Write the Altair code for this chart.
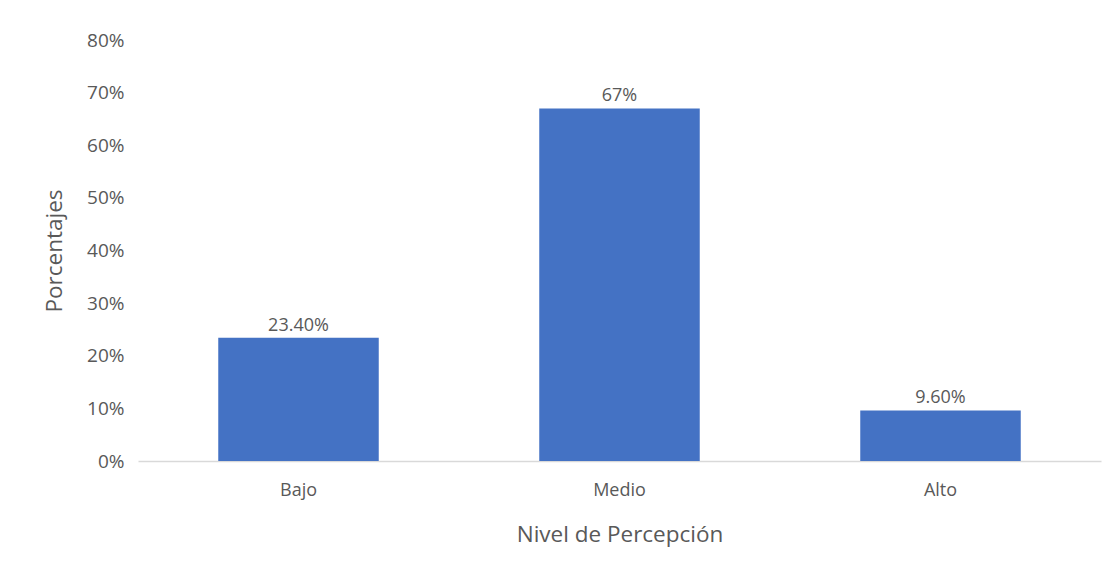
import altair as alt
import pandas as pd

categories = ["Bajo", "Medio", "Alto"]
values = [0.234, 0.67, 0.096]
value_labels = ["23.40%", "67%", "9.60%"]
y_ticks = [0, 0.1, 0.2, 0.3, 0.4, 0.5, 0.6, 0.7, 0.8]

df = pd.DataFrame({"nivel": categories, "pct": values, "label": value_labels})

FONT = "Open Sans"
GRAY = "#595959"

x = alt.X("nivel:N", sort=categories, title="Nivel de Percepción",
          scale=alt.Scale(paddingInner=0.5, paddingOuter=0.25),
          axis=alt.Axis(labelAngle=0, ticks=False, domainColor="#d9d9d9",
                        domainWidth=1.5, labelPadding=20, titlePadding=24,
                        labelFontSize=18, titleFontSize=22.5,
                        labelColor=GRAY, titleColor=GRAY, titleFontWeight="normal",
                        labelFont=FONT, titleFont=FONT))
y = alt.Y("pct:Q", title="Porcentajes",
          scale=alt.Scale(domain=[0, 0.8]),
          axis=alt.Axis(values=y_ticks, format=".0%", grid=False, domain=False,
                        ticks=False, labelPadding=14, titlePadding=20,
                        labelFontSize=19, titleFontSize=22.5,
                        labelColor=GRAY, titleColor=GRAY, titleFontWeight="normal",
                        labelFont=FONT, titleFont=FONT))

bars = alt.Chart(df).mark_bar(color="#4472C4").encode(x=x, y=y)
texts = alt.Chart(df).mark_text(baseline="bottom", dy=-3, fontSize=18,
                                font=FONT, color=GRAY).encode(
    x=alt.X("nivel:N", sort=categories), y="pct:Q", text="label:N")

chart = (bars + texts).properties(
    width=963, height=421,
    background="white",
    autosize=alt.AutoSizeParams(type="none"),
    padding={"left": 130, "top": 32, "right": 2, "bottom": 100},
).configure_view(strokeWidth=0, stroke="transparent")

chart.save("out.html", embed_options={"renderer": "svg", "actions": False})
